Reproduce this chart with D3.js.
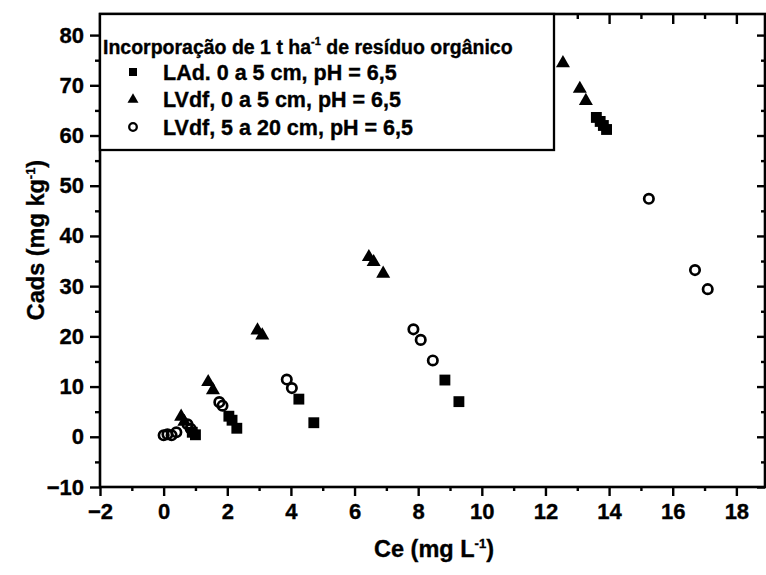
<!DOCTYPE html>
<html>
<head>
<meta charset="utf-8">
<script src="https://cdn.jsdelivr.net/npm/d3@7/dist/d3.min.js"></script>
<style>
  html, body { margin: 0; padding: 0; background: #fff; }
  svg { display: block; }
  text { font-family: "Liberation Sans", Arial, sans-serif; font-weight: bold; fill: #000; stroke: #000; stroke-width: 0.35px; }
</style>
</head>
<body>
<svg id="chart" width="766" height="575"></svg>
<script>
// Adsorption isotherm data: Ce (mg L-1) vs Cads (mg kg-1)
const ladX = [0.9, 1.0, 2.05, 2.15, 2.3, 4.25, 4.72, 8.84, 9.28, 13.6, 13.72, 13.82, 13.92];
const ladY = [0.9, 0.4, 4.1, 3.3, 1.7, 7.5, 2.8, 11.3, 7.0, 63.6, 62.8, 62.0, 61.2];

const lvdfTopX = [0.55, 0.65, 1.4, 1.55, 2.95, 3.1, 6.45, 6.6, 6.9, 12.55, 13.08, 13.27];
const lvdfTopY = [4.0, 3.0, 10.9, 9.3, 21.2, 20.2, 35.8, 34.8, 32.5, 74.4, 69.3, 66.9];

const lvdfSubX = [0.0, 0.12, 0.25, 0.4, 0.75, 0.85, 1.75, 1.85, 3.87, 4.03, 7.85, 8.08, 8.46, 15.25, 16.7, 17.1];
const lvdfSubY = [0.3, 0.5, 0.3, 0.9, 2.5, 1.6, 6.9, 6.2, 11.4, 9.7, 21.4, 19.3, 15.2, 47.4, 33.2, 29.4];

const xTicks = [-2, 0, 2, 4, 6, 8, 10, 12, 14, 16, 18];
const yTicks = [-10, 0, 10, 20, 30, 40, 50, 60, 70, 80];
const legendTitle = ["Incorporação de 1 t ha", "-1", " de resíduo orgânico"];
const legendLabels = ["LAd. 0 a 5 cm, pH = 6,5", "LVdf, 0 a 5 cm, pH = 6,5", "LVdf, 5 a 20 cm, pH = 6,5"];

const svg = d3.select("#chart");
const mLeft = 100, mRight = 765, mTop = 14, mBottom = 487;

const x = d3.scaleLinear().domain([-2, 18.9]).range([mLeft, mRight]);
const y = d3.scaleLinear().domain([-10, 84.2]).range([mBottom, mTop]);

const xMinor = d3.range(-2, 19, 1).filter(v => v % 2 !== 0);
const yMinor = d3.range(-5, 85, 10);

const axisFont = "22px";

// Bottom axis (labelled) with minor ticks
svg.append("g").attr("transform", `translate(0,${mBottom})`)
  .call(d3.axisBottom(x).tickValues(xTicks).tickSize(9).tickPadding(7).tickFormat(d3.format("d")));
svg.append("g").attr("transform", `translate(0,${mBottom})`)
  .call(d3.axisBottom(x).tickValues(xMinor).tickSize(4).tickFormat(""));

// Left axis (labelled) with minor ticks
svg.append("g").attr("transform", `translate(${mLeft},0)`)
  .call(d3.axisLeft(y).tickValues(yTicks).tickSize(10).tickPadding(6).tickFormat(d3.format("d")));
svg.append("g").attr("transform", `translate(${mLeft},0)`)
  .call(d3.axisLeft(y).tickValues(yMinor).tickSize(5).tickFormat(""));

// Top and right axes with inward ticks, no labels
svg.append("g").attr("transform", `translate(0,${mTop})`)
  .call(d3.axisBottom(x).tickValues(xTicks).tickSize(10).tickFormat(""));
svg.append("g").attr("transform", `translate(0,${mTop})`)
  .call(d3.axisBottom(x).tickValues(xMinor).tickSize(5).tickFormat(""));
svg.append("g").attr("transform", `translate(${mRight},0)`)
  .call(d3.axisLeft(y).tickValues(yTicks).tickSize(8).tickFormat(""));
svg.append("g").attr("transform", `translate(${mRight},0)`)
  .call(d3.axisLeft(y).tickValues(yMinor).tickSize(4).tickFormat(""));

svg.selectAll(".domain").remove();
svg.selectAll(".tick line").attr("stroke", "#000").attr("stroke-width", 2.4);
svg.selectAll(".tick text")
  .style("font-size", axisFont)
  .style("font-family", "'Liberation Sans', Arial, sans-serif")
  .style("font-weight", "bold")
  .attr("fill", "#000");

// Plot frame
svg.append("rect")
  .attr("x", mLeft).attr("y", mTop)
  .attr("width", mRight - mLeft).attr("height", mBottom - mTop)
  .attr("fill", "none").attr("stroke", "#000").attr("stroke-width", 2.6);

// Axis titles
const xt = svg.append("text").attr("x", 434).attr("y", 557).attr("text-anchor", "middle").style("font-size", "23.5px");
xt.append("tspan").text("Ce (mg L");
xt.append("tspan").text("-1").style("font-size", "13px").attr("dy", -9);
xt.append("tspan").text(")").attr("dy", 9);

const yt = svg.append("text").attr("transform", "translate(44,240) rotate(-90)").attr("text-anchor", "middle").style("font-size", "23.5px");
yt.append("tspan").text("Cads (mg kg");
yt.append("tspan").text("-1").style("font-size", "13px").attr("dy", -9);
yt.append("tspan").text(")").attr("dy", 9);

// Markers
const sq = d3.symbol().type(d3.symbolSquare).size(118);
const tri = d3.symbol().type(d3.symbolTriangle).size(85);

svg.append("g").selectAll("path").data(d3.zip(ladX, ladY)).join("path")
  .attr("d", sq).attr("transform", d => `translate(${x(d[0])},${y(d[1])})`).attr("fill", "#000");

svg.append("g").selectAll("path").data(d3.zip(lvdfTopX, lvdfTopY)).join("path")
  .attr("d", tri).attr("transform", d => `translate(${x(d[0])},${y(d[1])})`).attr("fill", "#000");

svg.append("g").selectAll("circle").data(d3.zip(lvdfSubX, lvdfSubY)).join("circle")
  .attr("cx", d => x(d[0])).attr("cy", d => y(d[1])).attr("r", 4.7)
  .attr("fill", "none").attr("stroke", "#000").attr("stroke-width", 2.7);

// Legend
const lg = svg.append("g");
lg.append("rect").attr("x", mLeft).attr("y", mTop).attr("width", 554 - mLeft).attr("height", 150 - mTop)
  .attr("fill", "#fff").attr("stroke", "#000").attr("stroke-width", 2.3);
const lt = lg.append("text").attr("x", 103).attr("y", 54).style("font-size", "19.5px");
lt.append("tspan").text(legendTitle[0]);
lt.append("tspan").text(legendTitle[1]).style("font-size", "11px").attr("dy", -9);
lt.append("tspan").text(legendTitle[2]).attr("dy", 9);

const legendRows = [
  {label: legendLabels[0], sym: "square"},
  {label: legendLabels[1], sym: "triangle"},
  {label: legendLabels[2], sym: "circle"}
];
legendRows.forEach((r, i) => {
  const cy = 72 + i * 27.5;
  if (r.sym === "square") {
    lg.append("path").attr("d", d3.symbol().type(d3.symbolSquare).size(64)).attr("transform", `translate(133,${cy})`).attr("fill", "#000");
  } else if (r.sym === "triangle") {
    lg.append("path").attr("d", d3.symbol().type(d3.symbolTriangle).size(52)).attr("transform", `translate(133,${cy})`).attr("fill", "#000");
  } else {
    lg.append("circle").attr("cx", 133).attr("cy", cy).attr("r", 3.8).attr("fill", "none").attr("stroke", "#000").attr("stroke-width", 2.3);
  }
  lg.append("text").attr("x", 163).attr("y", cy + 7.5).style("font-size", "21.5px").text(r.label);
});
</script>
</body>
</html>
